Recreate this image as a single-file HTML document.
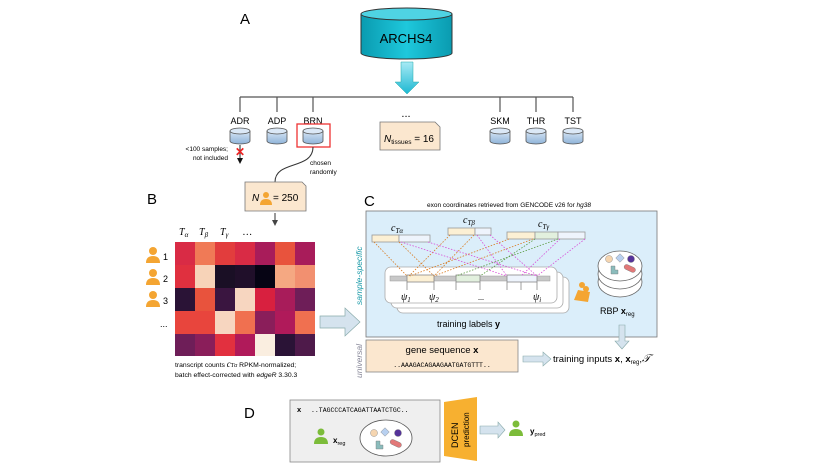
<!DOCTYPE html><html><head><meta charset="utf-8"><style>body{margin:0;background:#fff}svg{display:block;font-family:"Liberation Sans",sans-serif}</style></head><body>
<svg width="830" height="467" viewBox="0 0 830 467" xmlns="http://www.w3.org/2000/svg">
<defs><linearGradient id="cy" x1="0" x2="1"><stop offset="0" stop-color="#0a9bb0"/><stop offset=".5" stop-color="#1ec8dc"/><stop offset="1" stop-color="#0a9bb0"/></linearGradient>
<linearGradient id="ar" x1="0" y1="0" x2="0" y2="1"><stop offset="0" stop-color="#a8eaf5"/><stop offset="1" stop-color="#1cb8d2"/></linearGradient>
<linearGradient id="sc" x1="0" y1="0" x2="0" y2="1"><stop offset="0" stop-color="#d7e6f5"/><stop offset="1" stop-color="#8fb3d8"/></linearGradient>
<g id="c"><path d="M-10 131 V141 A10 3 0 0 0 10 141 V131" fill="url(#sc)"/><ellipse cx="0" cy="131" rx="10" ry="3" fill="#dbe8f6"/></g></defs>
<text x="240" y="24" font-size="15">A</text>
<path d="M361 14 V53 A45.5 6 0 0 0 452 53 V14" fill="url(#cy)" stroke="#333" stroke-width="1"/>
<ellipse cx="406.5" cy="14" rx="45.5" ry="6" fill="#4fd3e3" stroke="#333"/>
<text x="406" y="43" font-size="13" text-anchor="middle">ARCHS4</text>
<path d="M401 62 H413 V82 H419 L407 94 L395 82 H401 Z" fill="url(#ar)" stroke="#2aa" stroke-width=".5"/>
<g stroke="#555" stroke-width="1.2" fill="none"><path d="M240 97 H573 M240 97 V112 M277 97 V112 M313 97 V112 M500 97 V112 M536 97 V112 M573 97 V112"/></g>
<g font-size="9" text-anchor="middle"><text x="240" y="124">ADR</text><text x="277" y="124">ADP</text><text x="313" y="124">BRN</text><text x="500" y="124">SKM</text><text x="536" y="124">THR</text><text x="573" y="124">TST</text><text x="406" y="117" font-size="11">...</text></g>
<g stroke="#555" stroke-width=".8">
<use href="#c" x="240"/><use href="#c" x="277"/><use href="#c" x="313"/><use href="#c" x="500"/><use href="#c" x="536"/><use href="#c" x="573"/></g>
<rect x="297" y="124" width="33" height="23" fill="none" stroke="#e33" stroke-width="1.3"/>
<path d="M380 122 H435 L440 127 V150 H380 Z" fill="#fbe7cf" stroke="#777" stroke-width=".8"/>
<text x="384" y="142" font-size="10"><tspan font-style="italic">N</tspan><tspan font-size="6.5" dy="2">tissues</tspan><tspan dy="-2"> = 16</tspan></text>
<path d="M240 145 V160" stroke="#222"/><path d="M237 158 L240 164 L243 158Z" fill="#111"/>
<text x="240" y="156" font-size="12" fill="#e22" text-anchor="middle" font-weight="bold">✕</text>
<g font-size="6.5" text-anchor="end"><text x="228" y="151">&lt;100 samples;</text><text x="228" y="160">not included</text></g>
<path d="M313 147 C313 170 275 160 275 182" stroke="#333" fill="none"/>
<g font-size="6.5"><text x="310" y="165">chosen</text><text x="310" y="174">randomly</text></g>
<text x="147" y="204" font-size="15">B</text><text x="364" y="206" font-size="15">C</text>
<path d="M245 182 H302 L306 186 V211 H245 Z" fill="#fbe7cf" stroke="#777" stroke-width=".8"/>
<text x="252" y="201" font-size="10" font-style="italic">N</text>
<g fill="#f4a532"><circle cx="266" cy="195" r="3"/><path d="M260 205 Q260 199 266 199 Q272 199 272 205Z"/></g>
<text x="273" y="201" font-size="10">= 250</text>
<path d="M275 213 V221" stroke="#333"/><path d="M272 220 L275 226 L278 220Z" fill="#444"/>
<g font-family="Liberation Serif" font-style="italic" font-size="10"><text x="179" y="235">T<tspan font-size="7" dy="2">α</tspan></text><text x="199" y="235">T<tspan font-size="7" dy="2">β</tspan></text><text x="220" y="235">T<tspan font-size="7" dy="2">γ</tspan></text><text x="243" y="235">…</text></g>
<g transform="translate(175,242)">
<rect x="0" y="0" width="20" height="23" fill="#d92b45"/><rect x="20" y="0" width="20" height="23" fill="#f07a56"/><rect x="40" y="0" width="20" height="23" fill="#e23d3d"/><rect x="60" y="0" width="20" height="23" fill="#d92b45"/><rect x="80" y="0" width="20" height="23" fill="#a81c5a"/><rect x="100" y="0" width="20" height="23" fill="#e8533d"/><rect x="120" y="0" width="20" height="23" fill="#a81c5a"/>
<rect x="0" y="23" width="20" height="23" fill="#e0303f"/><rect x="20" y="23" width="20" height="23" fill="#f7d3b8"/><rect x="40" y="23" width="20" height="23" fill="#1a0f25"/><rect x="60" y="23" width="20" height="23" fill="#200f2a"/><rect x="80" y="23" width="20" height="23" fill="#060414"/><rect x="100" y="23" width="20" height="23" fill="#f5a882"/><rect x="120" y="23" width="20" height="23" fill="#f29070"/>
<rect x="0" y="46" width="20" height="23" fill="#2a1336"/><rect x="20" y="46" width="20" height="23" fill="#e8533d"/><rect x="40" y="46" width="20" height="23" fill="#3a1540"/><rect x="60" y="46" width="20" height="23" fill="#f7d6c0"/><rect x="80" y="46" width="20" height="23" fill="#d8203f"/><rect x="100" y="46" width="20" height="23" fill="#a81c5a"/><rect x="120" y="46" width="20" height="23" fill="#6e1e58"/>
<rect x="0" y="69" width="20" height="23" fill="#e8453d"/><rect x="20" y="69" width="20" height="23" fill="#e8453d"/><rect x="40" y="69" width="20" height="23" fill="#f7d6c0"/><rect x="60" y="69" width="20" height="23" fill="#f07050"/><rect x="80" y="69" width="20" height="23" fill="#8a1e5a"/><rect x="100" y="69" width="20" height="23" fill="#b01a5a"/><rect x="120" y="69" width="20" height="23" fill="#f07050"/>
<rect x="0" y="92" width="20" height="22" fill="#6e1e58"/><rect x="20" y="92" width="20" height="22" fill="#8a1e5a"/><rect x="40" y="92" width="20" height="22" fill="#e2303f"/><rect x="60" y="92" width="20" height="22" fill="#b01a5a"/><rect x="80" y="92" width="20" height="22" fill="#faeee0"/><rect x="100" y="92" width="20" height="22" fill="#2a1336"/><rect x="120" y="92" width="20" height="22" fill="#4e1a4a"/>
</g>
<g fill="#f4a532"><g id="p"><circle cx="153" cy="251" r="4"/><path d="M146 263 Q146 256 153 256 Q160 256 160 263Z"/></g><use href="#p" y="22"/><use href="#p" y="44"/></g>
<g font-size="9"><text x="163" y="260">1</text><text x="163" y="282">2</text><text x="163" y="304">3</text><text x="160" y="327">...</text></g>
<g font-size="6.8"><text x="175" y="367">transcript counts <tspan font-family="Liberation Serif" font-style="italic" font-size="9">c</tspan><tspan font-family="Liberation Serif" font-style="italic" font-size="6">Tα</tspan> RPKM-normalized;</text><text x="175" y="377">batch effect-corrected with <tspan font-style="italic">edgeR</tspan> 3.30.3</text></g>
<path d="M320 316 H345 V308 L360 322 L345 336 V328 H320 Z" fill="#d5e3ee" stroke="#8aa" stroke-width=".7"/>
<text x="509" y="207" font-size="6.5" text-anchor="middle">exon coordinates retrieved from GENCODE v26 for <tspan font-style="italic">hg38</tspan></text>
<rect x="366" y="211" width="291" height="126" fill="#dbeefa" stroke="#777" stroke-width=".8"/>
<text transform="translate(362,305) rotate(-90)" font-size="8.5" font-style="italic" fill="#1a9aa8">sample-specific</text>
<text transform="translate(362,378) rotate(-90)" font-size="8.5" font-style="italic" fill="#889">universal</text>
<g font-family="Liberation Serif" font-style="italic" font-size="10"><text x="391" y="231">c<tspan font-size="7" dy="2">Tα</tspan></text><text x="463" y="223">c<tspan font-size="7" dy="2">Tβ</tspan></text><text x="538" y="227">c<tspan font-size="7" dy="2">Tγ</tspan></text></g>
<g stroke="#999" stroke-width=".8"><rect x="372" y="235" width="27" height="7" fill="#fcf0d4"/><rect x="399" y="235" width="31" height="7" fill="#eef4fc"/>
<rect x="448" y="228" width="27" height="7" fill="#fcf0d4"/><rect x="475" y="228" width="16" height="7" fill="#eef4fc"/>
<rect x="507" y="232" width="28" height="7" fill="#fcf0d4"/><rect x="535" y="232" width="23" height="7" fill="#e2f0de"/><rect x="558" y="232" width="27" height="7" fill="#eef4fc"/></g>
<g fill="#fff" stroke="#aaa" stroke-width=".8"><rect x="397" y="277" width="172" height="36" rx="6"/><rect x="391" y="272" width="172" height="36" rx="6"/><rect x="385" y="267" width="172" height="36" rx="6"/></g>
<rect x="390" y="276" width="160" height="5" fill="#c8c8c8" stroke="#999" stroke-width=".5"/>
<g stroke="#888" stroke-width=".8"><rect x="407" y="275" width="27" height="7" fill="#fcf0d4"/><rect x="456" y="275" width="24" height="7" fill="#e2f0de"/><rect x="507" y="275" width="30" height="7" fill="#eef4fc"/>
<path d="M407 282 V290 M434 282 V290 M456 282 V290 M480 282 V290 M507 282 V290 M521 282 V290 M537 282 V290" fill="none"/></g>
<g stroke-dasharray="1.5,1.5" stroke-width=".8" fill="none">
<g stroke="#d87a20"><path d="M374 242 L407 276 M399 242 L434 276 M450 235 L409 276 M474 235 L434 276 M509 239 L410 276 M533 239 L434 276"/></g>
<g stroke="#5a9a40"><path d="M535 239 L480 276 M558 239 L456 276"/></g>
<g stroke="#d84ed8"><path d="M401 242 L507 276 M428 242 L537 276 M477 235 L507 276 M490 235 L537 276 M560 239 L521 276 M585 239 L537 276"/></g></g>
<g font-family="Liberation Serif" font-style="italic" font-size="10"><text x="401" y="300">ψ<tspan font-size="7" dy="2">1</tspan></text><text x="429" y="300">ψ<tspan font-size="7" dy="2">2</tspan></text><text x="478" y="300" font-style="normal" font-size="8">...</text><text x="533" y="300">ψ<tspan font-size="7" dy="2">i</tspan></text></g>
<text x="437" y="327" font-size="9">training labels <tspan font-weight="bold">y</tspan></text>
<g fill="#f4a532"><circle cx="582" cy="285" r="3"/><circle cx="586" cy="289" r="3"/><path d="M574 300 L578 290 L590 292 L588 302Z"/></g>
<g stroke="#666" stroke-width=".8" fill="#fff"><ellipse cx="620" cy="282" rx="22" ry="15"/><ellipse cx="620" cy="274" rx="22" ry="15"/><ellipse cx="620" cy="266" rx="22" ry="15"/></g>
<g stroke="#777" stroke-width=".4"><circle cx="609" cy="259" r="3.5" fill="#f5d5b0"/><rect x="617" y="255" width="6" height="6" fill="#b8d0f0" transform="rotate(45 620 258)"/><circle cx="631" cy="259" r="3.5" fill="#55339a"/><path d="M611 266 h4 v4 h3 v4 h-7z" fill="#8bbcbc"/><rect x="624" y="266" width="12" height="5" rx="2.5" fill="#e27878" transform="rotate(25 630 268)"/></g>
<text x="600" y="314" font-size="9">RBP <tspan font-weight="bold">x</tspan><tspan font-size="6" dy="2">reg</tspan></text>
<path d="M619 325 H625 V341 H629 L622 349 L615 341 H619 Z" fill="#d5e3ee" stroke="#8aa" stroke-width=".6"/>
<rect x="366" y="340" width="152" height="32" fill="#fbe7cf" stroke="#888" stroke-width=".8"/>
<text x="442" y="353" font-size="9.5" text-anchor="middle">gene sequence <tspan font-weight="bold">x</tspan></text>
<text x="442" y="367" font-size="6.5" font-family="Liberation Mono" text-anchor="middle">..AAAGACAGAAGAATGATGTTT..</text>
<path d="M523 356 H543 V352 L551 359 L543 366 V362 H523 Z" fill="#d5e3ee" stroke="#8aa" stroke-width=".6"/>
<text x="553" y="362" font-size="9.5">training inputs <tspan font-weight="bold">x</tspan>, <tspan font-weight="bold">x</tspan><tspan font-size="6" dy="2">reg</tspan><tspan dy="-2">,</tspan><tspan font-family="Liberation Serif" font-style="italic" font-size="11">𝒯</tspan></text>
<text x="244" y="418" font-size="15">D</text>
<rect x="290" y="400" width="150" height="62" fill="#efefef" stroke="#888" stroke-width=".8"/>
<text x="297" y="412" font-size="7.5" font-weight="bold">x</text><text x="311" y="412" font-size="6.5" font-family="Liberation Mono">..TAGCCCATCAGATTAATCTGC..</text>
<g fill="#7cbc3a"><circle cx="321" cy="432" r="3.5"/><path d="M314 444 Q314 437 321 437 Q328 437 328 444Z"/></g>
<text x="333" y="443" font-size="8" font-weight="bold">x<tspan font-size="5.5" font-weight="normal" dy="2">reg</tspan></text>
<ellipse cx="386" cy="438" rx="26" ry="18" fill="#fff" stroke="#555" stroke-width=".8"/>
<g stroke="#777" stroke-width=".4"><circle cx="374" cy="433" r="3.5" fill="#f5d5b0"/><rect x="382" y="429" width="6" height="6" fill="#b8d0f0" transform="rotate(45 385 432)"/><circle cx="398" cy="433" r="3.5" fill="#55339a"/><path d="M376 441 h4 v4 h3 v4 h-7z" fill="#8bbcbc"/><rect x="390" y="441" width="12" height="5" rx="2.5" fill="#e27878" transform="rotate(25 396 443)"/></g>
<path d="M444 402 L477 397 V461 L444 456 Z" fill="#f7b030"/>
<text transform="translate(458,448) rotate(-90)" font-size="9">DCEN</text><text transform="translate(469,447) rotate(-90)" font-size="8">prediction</text>
<path d="M480 426 H498 V422 L505 430 L498 438 V434 H480 Z" fill="#d5e3ee" stroke="#8aa" stroke-width=".6"/>
<g fill="#7cbc3a"><circle cx="516" cy="424" r="3.5"/><path d="M509 436 Q509 429 516 429 Q523 429 523 436Z"/></g>
<text x="530" y="434" font-size="8" font-weight="bold">y<tspan font-size="5.5" font-weight="normal" dy="2">pred</tspan></text>
</svg></body></html>
